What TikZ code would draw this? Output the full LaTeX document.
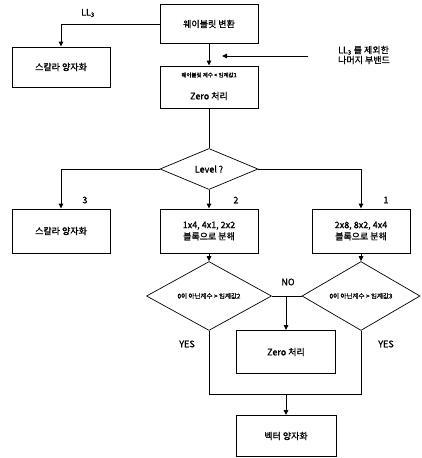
\documentclass[tikz,border=0pt]{standalone}
\usepackage{fontspec}
\setmainfont{Noto Sans CJK KR}[AutoFakeBold=1.2]
\usetikzlibrary{shapes.geometric,arrows.meta}
\begin{document}
\begin{tikzpicture}[x=1pt,y=-1pt,
  box/.style={draw,line width=0.9pt,inner sep=0pt,align=center,font=\fontsize{9}{11.5}\selectfont\bfseries},
  dia/.style={draw,diamond,line width=0.7pt,inner sep=0pt,font=\fontsize{6.5}{8}\selectfont\bfseries},
  conn/.style={line width=1pt},
  arr/.style={conn,-{Triangle[length=5pt,width=4.5pt]}},
  lbl/.style={inner sep=0pt,font=\fontsize{9}{10}\selectfont\bfseries},
  small/.style={inner sep=0pt,font=\fontsize{5.5}{7}\selectfont\bfseries}]
\useasboundingbox (0,0) rectangle (421,458);

% top row
\node[box,minimum width=98pt,minimum height=39pt] (wt) at (209,24) {웨이블릿 변환};
\node[box,minimum width=98pt,minimum height=40pt] (sq1) at (61,67) {스칼라 양자화};
\node[box,minimum width=98pt,minimum height=42pt] (zero1) at (209,87) {};
\node[small] (thr1) at (209,75) {웨이블릿 계수 < 임계값1};
\node[lbl] (z1txt) at (209,96) {Zero 처리};
\node[lbl] (ll3) at (88,13) {LL\textsubscript{3}};
\node[lbl,align=left] (side) at (364,55) {LL\textsubscript{3} 를 제외한\\나머지 부밴드};
\coordinate (sideStart) at (308,56);
\coordinate (sideEnd) at (222,56);

\draw[arr] (wt.west) -| (sq1.north);
\draw[arr] (wt.south) -- (zero1.north);
\draw[arr] (sideStart) -- (sideEnd);

% level decision
\node[dia,minimum width=98pt,minimum height=41pt,font=\fontsize{9}{10}\selectfont\bfseries] (lev) at (209,169) {Level ?};
\draw[conn] (zero1.south) -- (lev.north);

% second row
\node[box,minimum width=98pt,minimum height=44pt] (sq2) at (61,231) {스칼라 양자화};
\node[box,minimum width=98pt,minimum height=44pt] (dec2) at (209,231) {1x4, 4x1, 2x2\\블록으로 분해};
\node[box,minimum width=98pt,minimum height=44pt] (dec1) at (361,231) {2x8, 8x2, 4x4\\블록으로 분해};

\draw[arr] (lev.west) -| (sq2.north);
\draw[arr] (lev.south) -- (dec2.north);
\draw[arr] (lev.east) -| (dec1.north);
\node[lbl] (n3) at (85,200) {3};
\node[lbl] (n2) at (236,200) {2};
\node[lbl] (n1) at (386,200) {1};

% threshold decisions
\node[dia,minimum width=125pt,minimum height=50pt] (d2) at (209,296) {0이 아닌계수 > 임계값2};
\node[dia,minimum width=118pt,minimum height=50pt] (d3) at (361,296) {0이 아닌계수 > 임계값3};
\draw[arr] (dec2.south) -- (d2.north);
\draw[arr] (dec1.south) -- (d3.north);
\draw[conn] (d2.east) -- (d3.west);
\coordinate (jn) at (286,296);
\node[lbl] (no) at (288,282) {NO};

\node[box,minimum width=99pt,minimum height=43pt] (zero2) at (286,352) {Zero 처리};
\draw[arr] (jn) -- (jn |- zero2.north);

\node[lbl] (yes1) at (187,344) {YES};
\node[lbl] (yes2) at (386,344) {YES};

\coordinate (jb) at (286,394);
\draw[conn] (d2.south) -- (d2.south |- jb) -| (d3.south);

\node[box,minimum width=100pt,minimum height=41pt] (vq) at (286,436) {벡터 양자화};
\draw[arr] (jb) -- (vq.north);
\end{tikzpicture}
\end{document}
